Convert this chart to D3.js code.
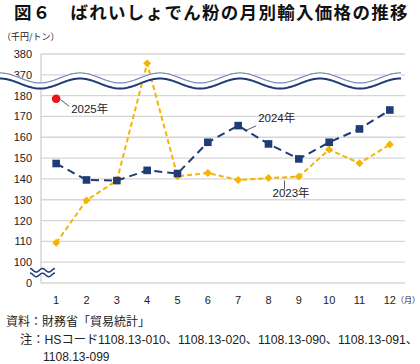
<!DOCTYPE html>
<html>
<head>
<meta charset="utf-8">
<script src="https://cdn.jsdelivr.net/npm/d3@7"></script>
<style>
  html, body { margin: 0; padding: 0; background: #fff; }
  svg { display: block; }
  .tick_label { font-family: "Liberation Sans", "Noto Sans CJK JP", sans-serif; font-size: 11px; fill: #222; }
  .series_label { font-family: "Liberation Sans", "Noto Sans CJK JP", sans-serif; font-size: 11.5px; fill: #222; }
  .foot { font-family: "Liberation Sans", "Noto Sans CJK JP", sans-serif; font-size: 12px; fill: #222; }
</style>
</head>
<body>
<div id="chart"></div>
<script>
//データ
var months = [1, 2, 3, 4, 5, 6, 7, 8, 9, 10, 11, 12];
var values2023 = [109.3, 129.7, 139.2, 375.5, 141.3, 142.8, 139.5, 140.4, 141.1, 154.1, 147.5, 156.5];
var values2024 = [147.4, 139.5, 139.2, 144.1, 142.6, 157.6, 165.6, 156.8, 149.6, 157.6, 164.0, 173.1];
var values2025 = [178.5];
var yTicks = [0, 100, 110, 120, 130, 140, 150, 160, 170, 180, 370, 380];

const width = 420;
const height = 364;

var plot_left = 41, plot_right = 405;
var plot_top = 54, plot_bottom = 283;

var svg = d3.select("#chart").append("svg")
    .attr("width", width).attr("height", height);

//y軸は目盛ごとに等間隔（途中省略あり）
var step = (plot_bottom - plot_top) / (yTicks.length - 1);
var y = d3.scaleLinear()
    .domain(yTicks)
    .range(yTicks.map((d, i) => plot_bottom - i * step));

var x = d3.scalePoint()
    .domain(months)
    .range([plot_left, plot_right])
    .padding(0.5);

//タイトル
svg.append("text")
    .attr("x", 14).attr("y", 18.5)
    .attr("font-family", "'Noto Sans CJK JP', sans-serif")
    .attr("font-weight", "bold")
    .attr("font-size", 17.5)
    .attr("letter-spacing", 1.3)
    .attr("fill", "#111")
    .text("図６　ばれいしょでん粉の月別輸入価格の推移");

svg.append("text")
    .attr("x", 2).attr("y", 40)
    .attr("font-family", "'Noto Sans CJK JP', sans-serif")
    .attr("font-size", 9)
    .attr("fill", "#222")
    .text("（千円/トン）");

//グリッド線
svg.append("g").selectAll("line")
    .data(yTicks)
    .enter()
    .append("line")
    .attr("x1", plot_left).attr("x2", plot_right)
    .attr("y1", d => y(d)).attr("y2", d => y(d))
    .attr("stroke", "#d6d6d6")
    .attr("stroke-width", 1.3);

svg.append("line")
    .attr("x1", plot_left).attr("x2", plot_left)
    .attr("y1", plot_top).attr("y2", plot_bottom)
    .attr("stroke", "#cfcfcf")
    .attr("stroke-width", 1.3);

//y軸ラベル
svg.append("g").selectAll("text")
    .data(yTicks)
    .enter()
    .append("text")
    .attr("class", "tick_label")
    .attr("x", 32)
    .attr("y", d => y(d) + 4)
    .attr("text-anchor", "end")
    .text(d => d);

//x軸ラベル
svg.append("g").selectAll("text")
    .data(months)
    .enter()
    .append("text")
    .attr("class", "tick_label")
    .attr("x", d => x(d))
    .attr("y", 304)
    .attr("text-anchor", "middle")
    .text(d => d);

svg.append("text")
    .attr("x", 396).attr("y", 303)
    .attr("font-family", "'Noto Sans CJK JP', sans-serif")
    .attr("font-size", 8)
    .attr("fill", "#222")
    .text("（月）");

//折れ線
var line = d3.line()
    .x((d, i) => x(months[i]))
    .y(d => y(d));

svg.append("path")
    .datum(values2023)
    .attr("d", line)
    .attr("fill", "none")
    .attr("stroke", "#f5b400")
    .attr("stroke-width", 2)
    .attr("stroke-dasharray", "5,3");

svg.append("path")
    .datum(values2024)
    .attr("d", line)
    .attr("fill", "none")
    .attr("stroke", "#1f3c78")
    .attr("stroke-width", 2)
    .attr("stroke-dasharray", "8,5");

//マーカー
svg.append("g").selectAll("path")
    .data(values2023)
    .enter()
    .append("path")
    .attr("d", d3.symbol().type(d3.symbolDiamond2).size(40))
    .attr("transform", (d, i) => "translate(" + x(months[i]) + "," + y(d) + ")")
    .attr("fill", "#f5b400");

svg.append("g").selectAll("rect")
    .data(values2024)
    .enter()
    .append("rect")
    .attr("x", (d, i) => x(months[i]) - 3.8)
    .attr("y", d => y(d) - 3.8)
    .attr("width", 7.6).attr("height", 7.6)
    .attr("fill", "#1f3c78");

svg.append("g").selectAll("circle")
    .data(values2025)
    .enter()
    .append("circle")
    .attr("cx", (d, i) => x(months[i]))
    .attr("cy", d => y(d))
    .attr("r", 4.3)
    .attr("fill", "#e8141b");

//省略の波線
function wave_path(x0, x1, yc, amp, period) {
    var pts = d3.range(x0, x1 + 0.5, 1).map(function (px) {
        return [px, yc - amp * Math.cos(2 * Math.PI * (px - x0) / period)];
    });
    return d3.line()(pts);
}

var wave_y = (y(370) + y(180)) / 2 - 4.5;
svg.append("path")
    .attr("d", wave_path(0, 401, wave_y, 5, 80))
    .attr("fill", "none").attr("stroke", "#fff").attr("stroke-width", 7);
svg.append("path")
    .attr("d", wave_path(0, 401, wave_y - 2.8, 5, 80))
    .attr("fill", "none").attr("stroke", "#7489bb").attr("stroke-width", 1.2);
svg.append("path")
    .attr("d", wave_path(0, 401, wave_y + 2.8, 5, 80))
    .attr("fill", "none").attr("stroke", "#1f3c78").attr("stroke-width", 2);

var brk_y = (y(0) + y(100)) / 2;
svg.append("path")
    .attr("d", wave_path(30, 55, brk_y, 1.8, 12.5))
    .attr("fill", "none").attr("stroke", "#fff").attr("stroke-width", 6);
svg.append("path")
    .attr("d", wave_path(30, 55, brk_y - 2.3, 1.8, 12.5))
    .attr("fill", "none").attr("stroke", "#1f3c78").attr("stroke-width", 1.5);
svg.append("path")
    .attr("d", wave_path(30, 55, brk_y + 2.3, 1.8, 12.5))
    .attr("fill", "none").attr("stroke", "#1f3c78").attr("stroke-width", 1.5);

//系列ラベル
var labels = [
    {text: "2025年", lx1: x(1) + 4.5, ly1: y(178.5) + 1, lx2: x(1) + 13, ly2: y(178.5) + 7.5, tx: x(1) + 15, ty: y(178.5) + 14},
    {text: "2024年", lx1: x(7) + 6.5, ly1: y(163), lx2: x(7) + 18, ly2: y(165.5), tx: x(7) + 20, ty: y(167.2)},
    {text: "2023年", lx1: x(8) + 16, ly1: y(139.2), lx2: x(8) + 16, ly2: y(135), tx: x(8) + 4, ty: y(131.5)}
];

svg.append("g").selectAll("line")
    .data(labels)
    .enter()
    .append("line")
    .attr("x1", d => d.lx1).attr("y1", d => d.ly1)
    .attr("x2", d => d.lx2).attr("y2", d => d.ly2)
    .attr("stroke", "#333")
    .attr("stroke-width", 0.8);

svg.append("g").selectAll("text")
    .data(labels)
    .enter()
    .append("text")
    .attr("class", "series_label")
    .attr("x", d => d.tx).attr("y", d => d.ty)
    .text(d => d.text);

//注記
svg.append("text")
    .attr("class", "foot")
    .attr("x", 6).attr("y", 326)
    .text("資料：財務省「貿易統計」");

svg.append("text")
    .attr("class", "foot")
    .attr("x", 20).attr("y", 344)
    .attr("textLength", 398)
    .attr("lengthAdjust", "spacingAndGlyphs")
    .text("注：HSコード1108.13-010、1108.13-020、1108.13-090、1108.13-091、");

svg.append("text")
    .attr("class", "foot")
    .attr("x", 43).attr("y", 361)
    .text("1108.13-099");
</script>
</body>
</html>
